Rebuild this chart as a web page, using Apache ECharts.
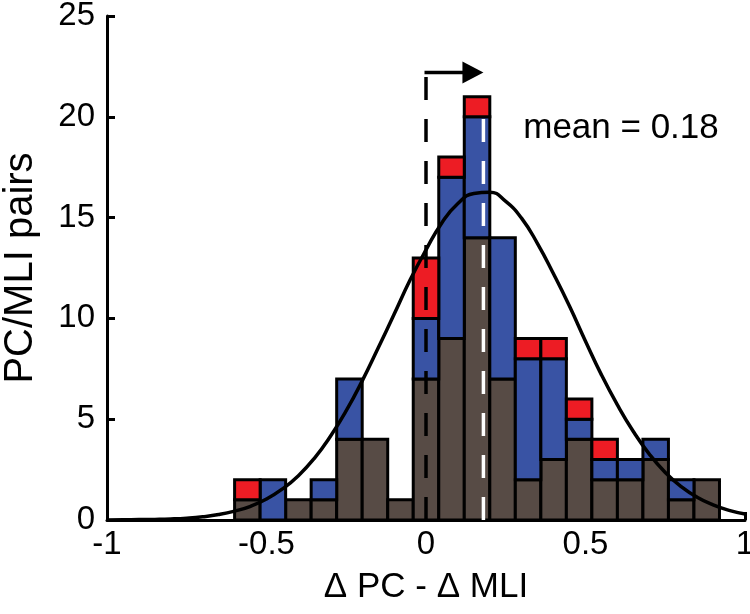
<!DOCTYPE html>
<html>
<head>
<meta charset="utf-8">
<script src="https://cdn.jsdelivr.net/npm/echarts@6/dist/echarts.min.js"></script>
<style>
html,body{margin:0;padding:0;background:#fff;}
#chart{width:750px;height:614px;}
</style>
</head>
<body>
<div id="chart"></div>
<script>
// ---- data ----
var binCenters = [-0.56,-0.48,-0.40,-0.32,-0.24,-0.16,-0.08,0.00,0.08,0.16,0.24,0.32,0.40,0.48,0.56,0.64,0.72,0.80,0.88];
var binWidth = 0.08;
var grayCounts = [1,0,1,1,4,4,1,7,9,14,7,2,3,4,2,2,3,1,2];
var blueCounts = [0,2,0,1,3,0,0,3,8,6,7,6,5,1,1,1,1,1,0];
var redCounts  = [1,0,0,0,0,0,0,3,1,1,0,1,1,1,1,0,0,0,0];

var curveX = [-1,-0.95,-0.9,-0.85,-0.8,-0.75,-0.7,-0.65,-0.6,-0.55,-0.5,-0.45,-0.4,-0.35,-0.3,-0.25,-0.2,-0.15,-0.1,-0.05,0,0.05,0.1,0.15,0.2,0.25,0.3,0.35,0.4,0.45,0.5,0.55,0.6,0.65,0.7,0.75,0.8,0.85,0.9,0.95,1];
var curveY = [0.00,0.01,0.02,0.03,0.05,0.09,0.16,0.27,0.44,0.68,1.04,1.54,2.2,3.06,4.14,5.42,6.9,8.53,10.2,11.9,13.4,14.75,15.7,16.2,16.26,15.8,14.96,13.7,12.2,10.6,8.87,7.2,5.71,4.39,3.27,2.36,1.66,1.13,0.75,0.48,0.3];

var meanValue = 0.18;
var zeroLineTop = 22.2;
var meanLineTop = 20.7;
var xTicks = [-1,-0.5,0,0.5,1];
var yTicks = [0,5,10,15,20,25];

// ---- styles ----
var FONT = '"Liberation Sans", Arial, sans-serif';
var COLORS = {gray:'#574B45', blue:'#3953A4', red:'#ED1C24'};

function stackData(vals, bases) {
  return binCenters.map(function(c, i){ return [c, bases[i], vals[i]]; });
}
var baseGray = grayCounts.map(function(){return 0;});
var baseBlue = grayCounts.slice();
var baseRed = grayCounts.map(function(g,i){return g + blueCounts[i];});

function barRender(color) {
  return function(params, api) {
    var c = api.value(0), b = api.value(1), v = api.value(2);
    if (!v) return null;
    var p0 = api.coord([c - binWidth/2, b + v]);
    var p1 = api.coord([c + binWidth/2, b]);
    return {
      type:'rect',
      shape:{x:p0[0], y:p0[1], width:p1[0]-p0[0], height:p1[1]-p0[1]},
      style:{fill:color, stroke:'#000', lineWidth:3}
    };
  };
}

var chart = echarts.init(document.getElementById('chart'), null, {renderer:'canvas'});
var option = {
  animation:false,
  backgroundColor:'#fff',
  grid:{left:107, right:5, top:16, bottom:94, containLabel:false, outerBoundsMode:'none'},
  xAxis:{
    type:'value', min:-1, max:1, interval:0.5,
    name:'\u0394 PC - \u0394 MLI', nameLocation:'middle', nameGap:50,
    nameTextStyle:{fontFamily:FONT, fontSize:35, color:'#000'},
    axisLine:{show:true, onZero:false, lineStyle:{color:'#000', width:3}},
    axisTick:{show:true, inside:true, length:8, lineStyle:{color:'#000', width:3}},
    axisLabel:{fontFamily:FONT, fontSize:33, color:'#000', margin:8,
      formatter:function(v){ return xTicks.indexOf(v) >= 0 ? String(v) : ''; }},
    splitLine:{show:false}
  },
  yAxis:{
    type:'value', min:0, max:25, interval:5,
    name:'PC/MLI pairs', nameLocation:'middle', nameRotate:90, nameGap:66,
    nameTextStyle:{fontFamily:FONT, fontSize:40, color:'#000'},
    axisLine:{show:true, onZero:false, lineStyle:{color:'#000', width:3}},
    axisTick:{show:true, inside:true, length:8, lineStyle:{color:'#000', width:3}},
    axisLabel:{fontFamily:FONT, fontSize:33, color:'#000', margin:12,
      formatter:function(v){ return yTicks.indexOf(v) >= 0 ? String(v) : ''; }},
    splitLine:{show:false}
  },
  graphic:[{
    type:'text', x:621, y:128, z:100,
    style:{text:'mean = 0.18', fontFamily:'Liberation Sans', fontSize:35, fill:'#000', align:'center', verticalAlign:'middle'}
  }],
  series:[
    {type:'custom', name:'gray', renderItem:barRender(COLORS.gray), data:stackData(grayCounts, baseGray), z:2},
    {type:'custom', name:'blue', renderItem:barRender(COLORS.blue), data:stackData(blueCounts, baseBlue), z:2},
    {type:'custom', name:'red', renderItem:barRender(COLORS.red), data:stackData(redCounts, baseRed), z:2},
    {type:'line', name:'fit', data:curveX.map(function(x,i){return [x, curveY[i]];}), smooth:true,
      showSymbol:false, symbol:'none', lineStyle:{color:'#000', width:3.5}, z:3},
    {type:'line', name:'zero', data:[[0,0],[0,zeroLineTop]], showSymbol:false, symbol:'none',
      lineStyle:{color:'#000', width:3.5, type:[23,19]}, z:4},
    {type:'line', name:'mean', data:[[meanValue,0],[meanValue,meanLineTop]], showSymbol:false, symbol:'none',
      lineStyle:{color:'#fff', width:3.5, type:[23,19]}, z:4},
    {type:'custom', name:'arrow', z:5,
      data:[[0, zeroLineTop, meanValue]],
      renderItem:function(params, api){
        var s = api.coord([api.value(0), api.value(1)]);
        var t = api.coord([api.value(2), api.value(1)]);
        var head = 21, half = 11;
        return {type:'group', children:[
          {type:'line', shape:{x1:s[0]-1.5, y1:s[1], x2:t[0]-head+2, y2:t[1]}, style:{stroke:'#000', lineWidth:3.5}},
          {type:'polygon', shape:{points:[[t[0],t[1]],[t[0]-head,t[1]-half],[t[0]-head,t[1]+half]]}, style:{fill:'#000'}}
        ]};
      }
    }
  ]
};
chart.setOption(option);
</script>
</body>
</html>
